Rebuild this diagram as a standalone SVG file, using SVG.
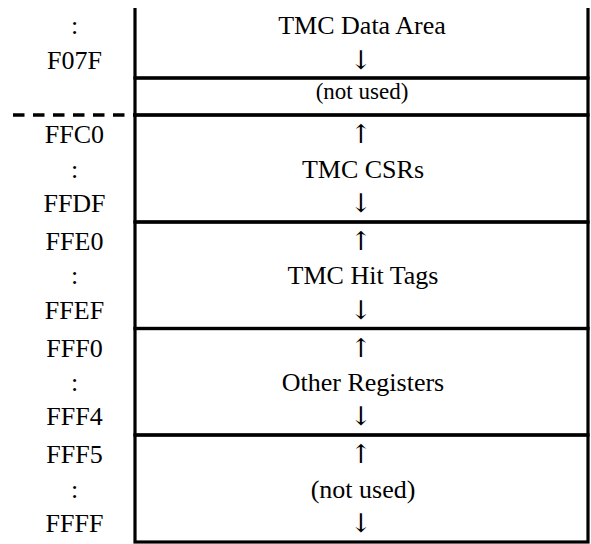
<svg xmlns="http://www.w3.org/2000/svg" width="591" height="544" viewBox="0 0 591 544">
<style>
.box{fill:none;stroke:#000;stroke-width:3.2}
.t{font-family:"Liberation Serif","Times New Roman",serif;font-size:26px;fill:#000;text-anchor:middle}
.s{font-size:23px}
.a{font-family:"DejaVu Serif","DejaVu Sans",serif;font-size:26px;fill:#000;text-anchor:middle}
.dash{stroke:#000;stroke-width:3.4;stroke-dasharray:11.5 8.5;fill:none}
</style>
<rect width="591" height="544" fill="#fff"/>
<g id="connectors">
<line class="dash" x1="13" y1="115" x2="135" y2="115"/>
</g>
<g id="labels-top">
<text class="t" x="74.5" y="34">:</text>
<text class="t" x="74.5" y="69">F07F</text>
</g>
<g id="node-data-area">
<path class="box" d="M135,8 V78 H588 V8"/>
<text class="t" x="362" y="34">TMC Data Area</text>
<text class="a" x="361" y="69">↓</text>
</g>
<g id="node-not-used-1">
<rect class="box" x="135" y="78" width="453" height="37"/>
<text class="t s" x="362" y="99">(not used)</text>
</g>
<g id="node-csrs">
<rect class="box" x="135" y="115" width="453" height="107"/>
<text class="t" x="74.5" y="143">FFC0</text>
<text class="t" x="74.5" y="177.5">:</text>
<text class="t" x="74.5" y="211.5">FFDF</text>
<text class="a" x="361" y="143">↑</text>
<text class="t" x="363" y="177.5">TMC CSRs</text>
<text class="a" x="361" y="211.5">↓</text>
</g>
<g id="node-hit-tags">
<rect class="box" x="135" y="222" width="453" height="106.5"/>
<text class="t" x="74.5" y="250">FFE0</text>
<text class="t" x="74.5" y="284">:</text>
<text class="t" x="74.5" y="318.5">FFEF</text>
<text class="a" x="361" y="250">↑</text>
<text class="t" x="363" y="284">TMC Hit Tags</text>
<text class="a" x="361" y="318.5">↓</text>
</g>
<g id="node-other-registers">
<rect class="box" x="135" y="328.5" width="453" height="106.5"/>
<text class="t" x="74.5" y="356.5">FFF0</text>
<text class="t" x="74.5" y="391">:</text>
<text class="t" x="74.5" y="425">FFF4</text>
<text class="a" x="361" y="356.5">↑</text>
<text class="t" x="363" y="391">Other Registers</text>
<text class="a" x="361" y="425">↓</text>
</g>
<g id="node-not-used-2">
<rect class="box" x="135" y="435" width="453" height="107"/>
<text class="t" x="74.5" y="463">FFF5</text>
<text class="t" x="74.5" y="497.5">:</text>
<text class="t" x="74.5" y="531.5">FFFF</text>
<text class="a" x="361" y="463">↑</text>
<text class="t" x="363" y="497.5">(not used)</text>
<text class="a" x="361" y="531.5">↓</text>
</g>
</svg>
